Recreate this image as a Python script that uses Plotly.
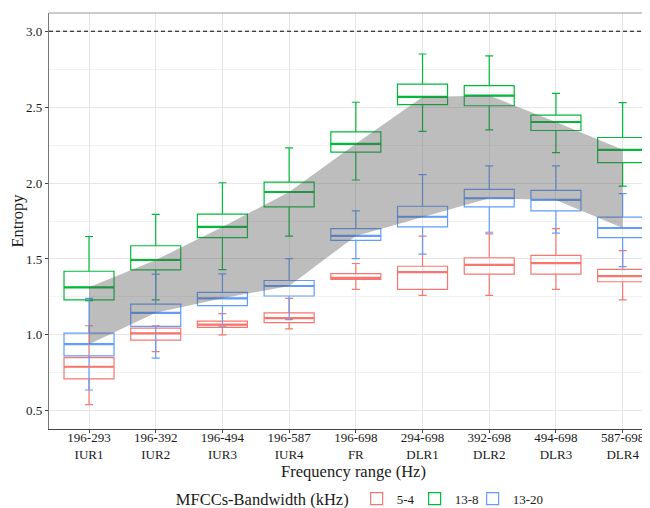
import plotly.graph_objects as go

categories = ["196-293<br>IUR1", "196-392<br>IUR2", "196-494<br>IUR3", "196-587<br>IUR4",
              "196-698<br>FR", "294-698<br>DLR1", "392-698<br>DLR2", "494-698<br>DLR3", "587-698<br>DLR4"]

# 5-4 kHz series
red_low = [0.54, 0.89, 1.00, 1.04, 1.30, 1.26, 1.26, 1.30, 1.23]
red_q1 = [0.71, 0.965, 1.05, 1.08, 1.365, 1.30, 1.40, 1.40, 1.35]
red_med = [0.79, 1.01, 1.067, 1.11, 1.376, 1.413, 1.461, 1.472, 1.387]
red_q3 = [0.85, 1.045, 1.09, 1.145, 1.404, 1.452, 1.508, 1.524, 1.432]
red_high = [1.06, 1.06, 1.14, 1.24, 1.47, 1.65, 1.665, 1.70, 1.555]

# 13-8 kHz series
green_low = [1.225, 1.23, 1.43, 1.65, 2.02, 2.34, 2.35, 2.20, 1.98]
green_q1 = [1.23, 1.428, 1.641, 1.843, 2.204, 2.517, 2.509, 2.346, 2.134]
green_med = [1.313, 1.493, 1.711, 1.941, 2.258, 2.567, 2.576, 2.402, 2.219]
green_q3 = [1.419, 1.587, 1.795, 2.006, 2.337, 2.652, 2.641, 2.448, 2.30]
green_high = [1.648, 1.793, 2.002, 2.232, 2.532, 2.85, 2.837, 2.591, 2.53]

# 13-20 kHz series
blue_low = [0.637, 0.847, 1.058, 1.10, 1.502, 1.532, 1.676, 1.67, 1.45]
blue_q1 = [0.862, 1.056, 1.193, 1.256, 1.622, 1.711, 1.843, 1.817, 1.641]
blue_med = [0.939, 1.145, 1.241, 1.322, 1.652, 1.778, 1.90, 1.889, 1.704]
blue_q3 = [1.012, 1.202, 1.28, 1.358, 1.70, 1.847, 1.958, 1.952, 1.776]
blue_high = [1.241, 1.40, 1.402, 1.502, 1.817, 2.056, 2.113, 2.113, 1.93]

series = [
    ("5-4", "#F8766D", red_low, red_q1, red_med, red_q3, red_high),
    ("13-8", "#00BA38", green_low, green_q1, green_med, green_q3, green_high),
    ("13-20", "#619CFF", blue_low, blue_q1, blue_med, blue_q3, blue_high),
]

FONT = "Liberation Serif"
BOX_W = 0.75
xpos = list(range(len(categories)))

fig = go.Figure()

for name, color, lo, q1, med, q3, hi in series:
    fig.add_trace(go.Box(
        x=xpos, q1=q1, median=med, q3=q3, lowerfence=lo, upperfence=hi,
        name=name, line=dict(color=color, width=1.2), fillcolor="rgba(0,0,0,0)",
        width=BOX_W, whiskerwidth=0.16, boxpoints=False, offsetgroup="a",
        hoverinfo="skip",
    ))
    # thicker median bars (ggplot style)
    mx, my = [], []
    for i, m in zip(xpos, med):
        mx += [i - BOX_W / 2, i + BOX_W / 2, None]
        my += [m, m, None]
    fig.add_trace(go.Scatter(x=mx, y=my, mode="lines", line=dict(color=color, width=2.2),
                             showlegend=False, hoverinfo="skip"))

# ribbon between 13-20 medians and 13-8 medians
fig.add_trace(go.Scatter(x=xpos, y=blue_med, mode="lines", line=dict(width=0),
                         showlegend=False, hoverinfo="skip"))
fig.add_trace(go.Scatter(x=xpos, y=green_med, mode="lines", line=dict(width=0),
                         fill="tonexty", fillcolor="rgba(90,90,90,0.40)",
                         showlegend=False, hoverinfo="skip"))

# invisible spacer entry so the last legend label is not clipped
fig.add_trace(go.Scatter(x=[None], y=[None], mode="lines", name="\u2007",
                         line=dict(width=0, color="rgba(0,0,0,0)"),
                         showlegend=True, hoverinfo="skip"))

fig.add_shape(type="line", xref="paper", x0=0, x1=1, yref="y", y0=3.0, y1=3.0,
              line=dict(color="black", width=1, dash="4px,3px"))
fig.add_shape(type="line", xref="paper", x0=0, x1=1, yref="paper", y0=1, y1=1,
              line=dict(color="#9a9a9a", width=1.2))

fig.update_layout(
    width=650, height=508,
    margin=dict(l=39, r=0, t=5, b=82),
    paper_bgcolor="white", plot_bgcolor="white",
    boxmode="overlay",
    font=dict(family=FONT, color="#1a1a1a", size=13),
    showlegend=True,
    legend=dict(orientation="h", x=0.205, xanchor="left", y=-0.17, yanchor="middle",
                traceorder="normal", entrywidth=13, entrywidthmode="pixels",
                title=dict(text="MFCCs-Bandwidth (kHz)", side="left", font=dict(size=16.5, family=FONT)),
                font=dict(size=13, family=FONT), itemwidth=30, tracegroupgap=0),
)

fig.update_xaxes(
    range=[-0.6, 8.53], tickvals=xpos, ticktext=categories,
    showgrid=True, gridcolor="#e6e6e6", gridwidth=1,
    showline=True, linecolor="#444444", linewidth=1.2,
    ticks="outside", ticklen=3, tickcolor="#444444",
    ticklabelstandoff=-7,
    tickfont=dict(size=13, family=FONT, color="#1a1a1a"),
    title=dict(text="Frequency range (Hz)", font=dict(size=16.5, family=FONT), standoff=0),
    zeroline=False,
)
fig.update_yaxes(
    range=[0.38, 3.12], tick0=0.5, dtick=0.5, tickformat=".1f",
    showgrid=True, gridcolor="#e6e6e6", gridwidth=1,
    minor=dict(dtick=0.25, tick0=0.25, showgrid=True, gridcolor="#f2f2f2", gridwidth=0.8),
    showline=True, linecolor="#777777", linewidth=1.2,
    ticks="outside", ticklen=3, tickcolor="#444444",
    tickfont=dict(size=13, family=FONT, color="#1a1a1a"),
    title=dict(text="Entropy", font=dict(size=16.5, family=FONT), standoff=6),
    zeroline=False,
)

fig.write_html("out.html")
